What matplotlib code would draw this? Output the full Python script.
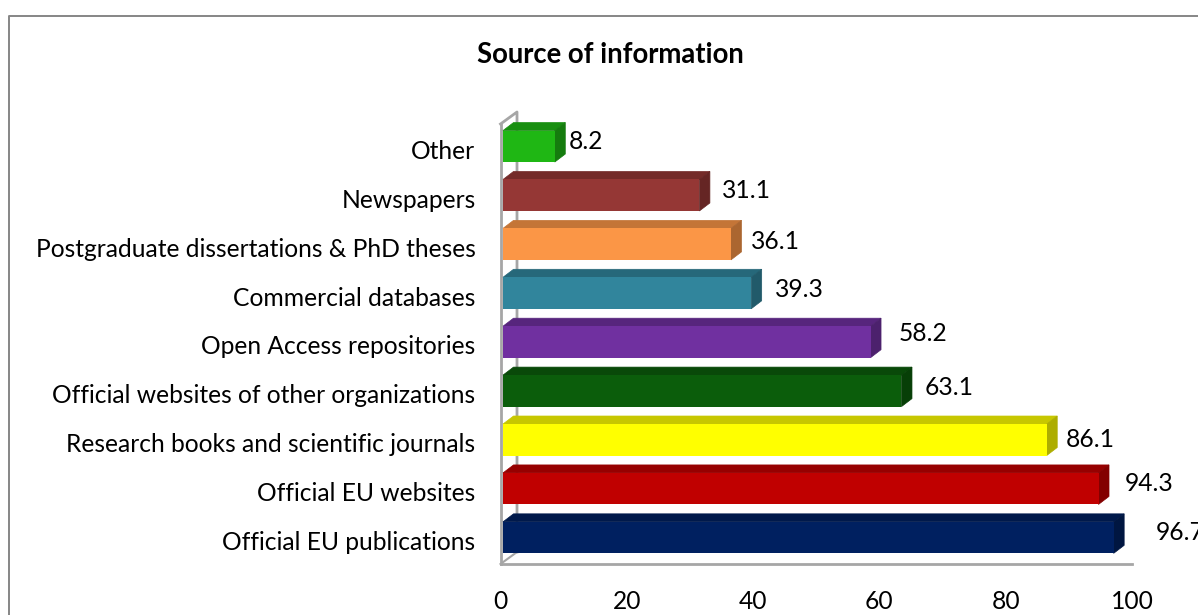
import matplotlib
matplotlib.use('Agg')
import matplotlib.pyplot as plt
from matplotlib.colors import to_rgb
from matplotlib.lines import Line2D
from matplotlib.transforms import ScaledTranslation

categories = ['Official EU publications', 'Official EU websites',
              'Research books and scientific journals',
              'Official websites of other organizations',
              'Open Access repositories', 'Commercial databases',
              'Postgraduate dissertations & PhD theses', 'Newspapers', 'Other']
values = [96.7, 94.3, 86.1, 63.1, 58.2, 39.3, 36.1, 31.1, 8.2]
colors = ['#002060', '#C00000', '#FFFF00', '#0B5D0B', '#7030A0',
          '#31859C', '#FB9646', '#953735', '#1FB714']
x_ticks = [0, 20, 40, 60, 80, 100]

# Hand placed data labels (pixels from the end of the bar).
label_dx = [42, 26, 19, 23, 28, 24, 20, 23, 14]
label_dy = [5.5, 5.5, 0, 3, 8, 4, 3, 5, 5]

W, H = 1198, 615
GREY = '#A6A6A6'
FONT_SIZE = 17.7
plt.rcParams['font.family'] = ['Lato', 'DejaVu Sans']

fig = plt.figure(figsize=(W / 100, H / 100), dpi=100)
ax = fig.add_axes([500.5 / W, 1 - 564 / H, 631.5 / W, 440 / H])
ax.set_xlim(0, 100)
ax.set_ylim(-0.54, 8.456)

# 3D look: depth of the bars and of the walls, in data units.
px_x = 100 / 631.5
px_y = (8.456 + 0.54) / 440
bar_dx, bar_dy = 10.5 * px_x, 8 * px_y
wall_dx, wall_dy = 16.5 * px_x, 12 * px_y
start = 2.5 * px_x
height = 31.5 * px_y


def shade(color, f):
    return tuple(c * f for c in to_rgb(color))


for i, (v, c) in enumerate(zip(values, colors)):
    end = start + v
    low, high = i - height / 2, i + height / 2
    top_c, side_c = shade(c, 0.78), shade(c, 0.68)
    ax.fill([start, end, end + bar_dx, start + bar_dx],
            [high, high, high + bar_dy, high + bar_dy],
            facecolor=top_c, edgecolor=top_c, lw=0.5, zorder=3, clip_on=False)
    ax.fill([end, end + bar_dx, end + bar_dx, end],
            [low, low + bar_dy, high + bar_dy, high],
            facecolor=side_c, edgecolor=side_c, lw=0.5, zorder=3, clip_on=False)
    ax.barh(i, v, left=start, height=height, color=c, zorder=4)
    ax.annotate(f'{v}', (end, i), xytext=(label_dx[i], label_dy[i]),
                textcoords='offset pixels', fontsize=FONT_SIZE, va='center',
                ha='left', color='black', annotation_clip=False)

# Back wall lines behind the bars.
y0, y1 = ax.get_ylim()
ax.plot([0, wall_dx, wall_dx], [y1, y1 + wall_dy, y0 + wall_dy],
        color=GREY, lw=2, zorder=1, clip_on=False)
ax.plot([0, wall_dx], [y0, y0 + wall_dy], color=GREY, lw=1.5, zorder=1,
        clip_on=False)

for side in ['top', 'right']:
    ax.spines[side].set_visible(False)
for side in ['left', 'bottom']:
    ax.spines[side].set_color(GREY)
    ax.spines[side].set_linewidth(2)

ax.set_xticks(x_ticks)
ax.set_yticks(range(len(categories)))
ax.set_yticklabels(categories)
ax.tick_params(axis='x', length=0, labelsize=FONT_SIZE, pad=18.5)
ax.tick_params(axis='y', length=0, labelsize=FONT_SIZE, pad=18)
shift = ScaledTranslation(0, -3 / 100, fig.dpi_scale_trans)
for label in ax.get_yticklabels():
    label.set_transform(label.get_transform() + shift)

fig.text(610 / W, 1 - 55 / H, 'Source of information', fontsize=19.8,
         fontweight='bold', ha='center', va='center')

# Chart area border, cut off at the right and bottom of the picture.
border = '#868686'
fig.add_artist(Line2D([9 / W, 9 / W, 1], [0, 1 - 15.5 / H, 1 - 15.5 / H],
                      color=border, lw=1.4))

fig.savefig('out.png', dpi=100)
